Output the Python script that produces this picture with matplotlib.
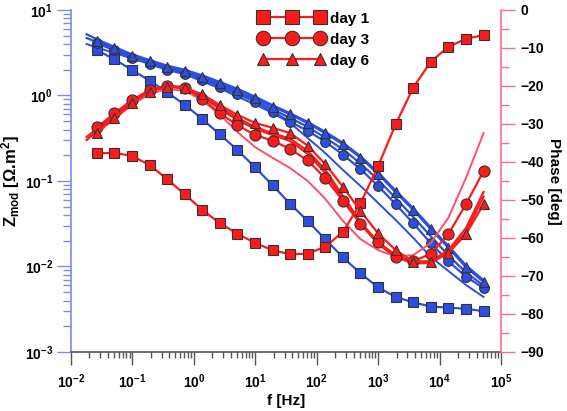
import numpy as np
import matplotlib
matplotlib.use("Agg")
import matplotlib.pyplot as plt
from matplotlib.ticker import FixedLocator, LogLocator, NullFormatter, FuncFormatter

plt.rcParams['font.family'] = ['Liberation Sans', 'DejaVu Sans']
plt.rcParams['font.weight'] = 'bold'
plt.rcParams['mathtext.fontset'] = 'custom'
plt.rcParams['mathtext.rm'] = 'Liberation Sans:bold'
plt.rcParams['mathtext.bf'] = 'Liberation Sans:bold'
plt.rcParams['mathtext.it'] = 'Liberation Sans:bold'

# frequencies of the measured points [Hz]
freq = [0.0263, 0.0508, 0.0983, 0.190, 0.367, 0.710, 1.37, 2.65, 5.12, 9.9,
        19.1, 37.0, 71.5, 138, 267, 516, 998, 1930, 3730, 7210,
        13900, 26900, 52000]
# frequencies of the fitted curves (extend a bit below the first point)
fit_freq = [0.018] + freq

# |Z| [Ohm.m2] with markers
z_day1 = [3.40, 2.65, 1.99, 1.49, 1.09, 0.78, 0.53, 0.35, 0.23, 0.145,
          0.089, 0.054, 0.034, 0.0208, 0.0128, 0.0083, 0.0057, 0.0044, 0.0038, 0.0034,
          0.0033, 0.0032, 0.0030]
z_day3 = [4.11, 3.36, 2.75, 2.34, 1.99, 1.78, 1.52, 1.26, 1.04, 0.845,
          0.647, 0.494, 0.385, 0.288, 0.203, 0.138, 0.0874, 0.0534, 0.0320, 0.0187,
          0.0115, 0.0076, 0.0056]
z_day6 = [4.37, 3.56, 2.92, 2.51, 2.15, 1.93, 1.66, 1.39, 1.16, 0.94,
          0.74, 0.60, 0.474, 0.361, 0.269, 0.187, 0.121, 0.0738, 0.0458, 0.0272,
          0.0166, 0.0098, 0.0066]
# |Z| curves without markers
z_fit_a = [5.2, 4.55, 3.7, 3.03, 2.6, 2.23, 2.0, 1.72, 1.44, 1.2, 0.97, 0.77,
           0.62, 0.49, 0.375, 0.28, 0.195, 0.126, 0.077, 0.048, 0.0285, 0.0174, 0.0103, 0.0069]
z_fit_b = [4.7, 4.2, 3.42, 2.82, 2.42, 2.07, 1.85, 1.58, 1.32, 1.1, 0.89, 0.69,
           0.545, 0.43, 0.32, 0.235, 0.16, 0.103, 0.063, 0.038, 0.0225, 0.0135, 0.0085, 0.006]
z_fit_c = [4.00, 3.64, 3.14, 2.71, 2.37, 2.07, 1.78, 1.46, 1.21, 0.97, 0.785, 0.624,
           0.477, 0.318, 0.212, 0.1345, 0.0874, 0.0553, 0.0350, 0.0216, 0.0129, 0.00886, 0.00608, 0.00440]

# phase [deg] with markers
ph_day1 = [-37.7, -37.6, -38.4, -40.8, -44.5, -48.5, -52.6, -56.1, -58.9, -61.3,
           -63.2, -64.3, -64.1, -62.3, -58.4, -50.9, -41.1, -30.1, -20.4, -13.6,
           -9.7, -7.6, -6.6]
ph_day3 = [-30.9, -27.2, -23.7, -21.1, -20.0, -20.6, -23.4, -27.2, -30.3, -32.9,
           -34.4, -36.6, -39.6, -44.3, -50.2, -56.3, -61.1, -64.9, -66.1, -64.2,
           -59.0, -51.1, -42.4]
ph_day6 = [-32.3, -28.5, -24.6, -21.5, -20.2, -20.6, -22.2, -25.0, -27.6, -29.7,
           -31.0, -32.4, -35.7, -40.6, -46.5, -52.9, -58.8, -63.2, -66.2, -66.2,
           -64.0, -59.0, -51.1]
# phase curves without markers
ph_fit_a = [-33.4, -31.3, -27.6, -23.9, -21.1, -19.9, -20.3, -22.4, -25.5, -28.4, -30.8, -32.4,
            -33.9, -37.1, -42.1, -48.9, -55.8, -61.1, -64.5, -66.3, -66.1, -63.2, -57.4, -47.9]
ph_fit_b = [-34.2, -31.8, -28.2, -24.3, -21.3, -20.1, -20.5, -22.8, -26.1, -28.9, -31.3, -32.9,
            -34.5, -37.9, -42.9, -49.7, -56.3, -61.6, -65.0, -66.7, -66.6, -63.9, -58.4, -49.2]
ph_fit_c = [-34.2, -32.1, -28.7, -25.0, -22.1, -20.8, -21.3, -23.7, -27.6, -32.1, -36.1, -38.9,
            -41.6, -45.0, -49.7, -55.5, -60.3, -63.2, -64.9, -64.5, -61.3, -54.7, -44.2, -32.4]

labels = ['day 1', 'day 3', 'day 6']

blue = '#2b4fe0'
red = '#ff1a1a'
pink = '#ff4f6e'
edge = '#333333'

fig = plt.figure(figsize=(5.67, 4.11), dpi=100)
ax = fig.add_axes([0.1252, 0.1436, 0.8836 - 0.1252, 0.9757 - 0.1436])
ax2 = ax.twinx()

# impedance modulus
ax.plot(fit_freq, z_fit_a, color=blue, lw=1.6)
ax.plot(fit_freq, z_fit_b, color=blue, lw=1.6)
ax.plot(fit_freq, z_fit_c, color=blue, lw=1.4)
ax.plot(freq, z_day1, color=blue, lw=1.6, marker='s', ms=6.5, mfc=blue, mec=edge, mew=0.8)
ax.plot(freq, z_day3, color=blue, lw=1.6, marker='o', ms=7, mfc=blue, mec=edge, mew=0.8)
ax.plot(freq, z_day6, color=blue, lw=1.6, marker='^', ms=7, mfc=blue, mec=edge, mew=0.8)

# phase
ax2.plot(fit_freq, ph_fit_c, color=pink, lw=1.4)
ax2.plot(fit_freq, ph_fit_a, color=red, lw=1.6)
ax2.plot(fit_freq, ph_fit_b, color=red, lw=1.6)
markers = ['s', 'o', '^']
sizes = [7.5, 8, 7]
for ph, m, s, lab in zip([ph_day1, ph_day3, ph_day6], markers, sizes, labels):
    ax2.plot(freq, ph, color=red, lw=1.6, marker=m, ms=s, mfc=red, mec=edge, mew=0.8, label=lab)

ax.set_xscale('log')
ax.set_yscale('log')
ax.set_xlim(1e-2, 1e5)
ax.set_ylim(1e-3, 1e1)
ax2.set_ylim(-90, 0)


def pow_fmt(v, pos):
    e = int(round(np.log10(v)))
    return r'$\mathbf{10^{%d}}$' % e


ax.xaxis.set_major_locator(FixedLocator([10.0 ** e for e in range(-2, 6)]))
ax.yaxis.set_major_locator(FixedLocator([10.0 ** e for e in range(-3, 2)]))
ax.xaxis.set_major_formatter(FuncFormatter(pow_fmt))
ax.yaxis.set_major_formatter(FuncFormatter(pow_fmt))
ax.xaxis.set_minor_locator(LogLocator(base=10, subs=range(2, 10), numticks=20))
ax.yaxis.set_minor_locator(LogLocator(base=10, subs=range(2, 10), numticks=20))
ax.xaxis.set_minor_formatter(NullFormatter())
ax.yaxis.set_minor_formatter(NullFormatter())
ax2.set_yticks(range(-90, 1, 10))
ax2.set_yticks(range(-85, 0, 10), minor=True)

axis_blue = '#7d8af0'
axis_pink = '#ff6d86'
axis_gray = '#555555'
ax.spines['top'].set_visible(False)
ax2.spines['top'].set_visible(False)
ax.spines['right'].set_visible(False)
ax.spines['left'].set_color(axis_blue)
ax2.spines['left'].set_visible(False)
ax2.spines['right'].set_color(axis_pink)
ax2.spines['bottom'].set_visible(False)
ax.spines['bottom'].set_color(axis_gray)
for sp in ['left', 'bottom']:
    ax.spines[sp].set_linewidth(1.2)
ax2.spines['right'].set_linewidth(1.2)

ax.tick_params(axis='x', which='major', direction='out', length=9, width=1, color=axis_gray,
               labelsize=10, pad=6)
ax.tick_params(axis='x', which='minor', direction='out', length=4.5, width=1, color=axis_gray)
ax.tick_params(axis='y', which='major', direction='out', length=10, width=1, color=axis_blue,
               labelsize=10, pad=3)
ax.tick_params(axis='y', which='minor', direction='out', length=6, width=1, color=axis_blue)
ax2.tick_params(axis='y', which='major', direction='out', length=10, width=1, color=axis_pink,
                labelsize=10, pad=4)
ax2.tick_params(axis='y', which='minor', direction='out', length=6, width=1, color=axis_pink)
for t in ax2.get_yticklabels():
    t.set_fontweight('bold')

ax.set_xlabel('f [Hz]', fontsize=11, fontweight='bold', labelpad=2)
ax.set_ylabel(r'Z$_{\mathbf{mod}}$ [Ω.m$^{\mathbf{2}}$]', fontsize=12, fontweight='bold', labelpad=2)
ax2.set_ylabel('Phase [deg]', fontsize=11, fontweight='bold', rotation=270, labelpad=12)

leg = ax2.legend(loc='upper left', bbox_to_anchor=(0.405, 1.035), frameon=False, numpoints=3,
                 handlelength=4.3, fontsize=11, labelspacing=0.45, handletextpad=0.35,
                 markerscale=1.3)
for t in leg.get_texts():
    t.set_fontweight('bold')

fig.savefig('out.png', dpi=100)
